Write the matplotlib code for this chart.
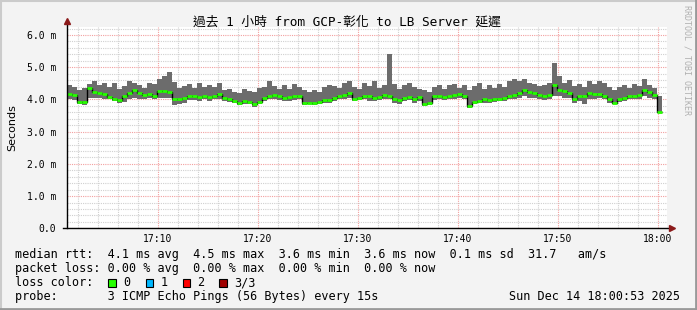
import numpy as np
import matplotlib
matplotlib.use('Agg')
import matplotlib.pyplot as plt
from matplotlib.patches import Rectangle

plt.rcParams['font.family'] = ['DejaVu Sans Mono', 'Noto Sans CJK TC']

# 取樣: 每 30 秒一點, 從 17:00:56 開始 (分鐘, 以 17:00 為 0)
t_start = 0.933
step_min = 0.5

# median rtt (ms)
med = [4.17, 4.15, 3.92, 3.92, 4.35, 4.22, 4.20, 4.18, 4.08, 4.00,
       3.98, 4.10, 4.20, 4.28, 4.20, 4.15, 4.18, 4.10, 4.25, 4.25,
       4.22, 4.02, 4.00, 4.05, 4.10, 4.12, 4.08, 4.10, 4.08, 4.12,
       4.18, 4.05, 4.02, 3.95, 3.88, 3.95, 3.92, 3.85, 3.92, 4.05,
       4.12, 4.15, 4.10, 4.05, 4.08, 4.10, 4.12, 3.88, 3.90, 3.88,
       3.92, 3.98, 3.98, 4.05, 4.12, 4.15,
       4.20, 4.03, 4.05, 4.10, 4.10, 4.05, 4.08, 4.15, 4.10, 4.02,
       3.98, 4.05, 4.08, 4.02, 4.08, 3.85, 3.90, 4.10, 4.10, 4.08,
       4.12, 4.15, 4.18, 4.12, 3.80, 3.92, 3.95, 4.00, 3.98, 4.02,
       4.02, 4.05, 4.10, 4.15, 4.20, 4.30, 4.22, 4.20, 4.15, 4.10,
       4.15, 4.45, 4.30, 4.25, 4.20, 4.00, 4.12, 4.10, 4.20, 4.18,
       4.18, 4.10, 4.00, 3.90, 4.00, 4.05, 4.10, 4.12, 4.15, 4.30,
       4.22, 4.15, 3.60]
# smoke 上緣 / 下緣 (ms)
hi = [4.45, 4.38, 4.30, 4.35, 4.47, 4.58, 4.45, 4.52, 4.40, 4.50,
      4.33, 4.42, 4.58, 4.50, 4.46, 4.36, 4.52, 4.48, 4.62, 4.72,
      4.85, 4.55, 4.35, 4.42, 4.48, 4.36, 4.50, 4.40, 4.46, 4.40,
      4.52, 4.28, 4.34, 4.24, 4.20, 4.32, 4.26, 4.22, 4.36, 4.40,
      4.58, 4.42, 4.32, 4.46, 4.34, 4.48, 4.38, 4.30, 4.22, 4.30,
      4.24, 4.38, 4.46, 4.42, 4.36, 4.50,
      4.58, 4.38, 4.32, 4.52, 4.42, 4.56, 4.36, 4.46, 5.42, 4.48,
      4.34, 4.46, 4.50, 4.40, 4.34, 4.28, 4.24, 4.38, 4.46, 4.34,
      4.44, 4.48, 4.36, 4.44, 4.28, 4.42, 4.52, 4.32, 4.46, 4.36,
      4.48, 4.38, 4.56, 4.62, 4.58, 4.62, 4.52, 4.48, 4.42, 4.46,
      4.52, 5.12, 4.72, 4.52, 4.60, 4.42, 4.48, 4.38, 4.58, 4.48,
      4.56, 4.50, 4.38, 4.28, 4.38, 4.44, 4.36, 4.48, 4.42, 4.62,
      4.46, 4.36, 4.10]
lo = [4.02, 3.98, 3.85, 3.82, 4.05, 4.05, 4.05, 4.02, 4.00, 3.95,
      3.90, 3.92, 4.00, 4.05, 4.00, 4.00, 4.05, 4.00, 4.05, 4.05,
      4.05, 3.82, 3.85, 3.90, 3.98, 3.98, 3.95, 4.00, 3.95, 4.00,
      4.00, 3.95, 3.92, 3.88, 3.82, 3.85, 3.85, 3.78, 3.85, 3.95,
      4.00, 4.00, 3.98, 3.95, 3.95, 3.98, 4.00, 3.82, 3.85, 3.82,
      3.85, 3.90, 3.88, 3.95, 4.00, 4.02,
      4.05, 3.95, 3.98, 4.00, 3.95, 3.95, 3.98, 4.00, 4.00, 3.90,
      3.85, 3.95, 3.98, 3.90, 3.95, 3.80, 3.82, 3.98, 4.00, 3.98,
      4.00, 4.00, 4.05, 4.00, 3.75, 3.85, 3.88, 3.90, 3.90, 3.92,
      3.95, 3.95, 4.00, 4.02, 4.05, 4.10, 4.05, 4.05, 4.00, 3.98,
      4.00, 4.10, 4.10, 4.05, 4.05, 3.90, 3.95, 3.85, 4.00, 4.00,
      4.05, 4.00, 3.90, 3.85, 3.92, 3.95, 4.00, 4.00, 4.02, 4.10,
      4.05, 4.02, 3.58]

x_ticks = [10, 20, 30, 40, 50, 60]
x_labels = ['17:10', '17:20', '17:30', '17:40', '17:50', '18:00']
y_ticks = [0, 1, 2, 3, 4, 5, 6]
y_labels = ['0.0', '1.0 m', '2.0 m', '3.0 m', '4.0 m', '5.0 m', '6.0 m']

loss_names = ['0', '1', '2', '3/3']
loss_colors = ['#26ff00', '#00b8ff', '#ff0000', '#a00000']

stat_rtt = ['4.1', '4.5', '3.6', '3.6', '0.1', '31.7']
stat_loss = ['0.00', '0.00', '0.00', '0.00']

edges = t_start + step_min * np.arange(len(med) + 1)

W, H = 697, 310
fig = plt.figure(figsize=(W / 100, H / 100), dpi=100, facecolor='#f3f3f3')
ax = fig.add_axes([67 / W, (H - 228.3) / H, 600 / W, 201.3 / H])
ax.set_facecolor('white')

ax.set_xlim(t_start, t_start + 60)
ax.set_ylim(0, 6.25)

# grid
ax.set_xticks(np.arange(2, 61, 2), minor=True)
ax.set_yticks(np.arange(0, 6.3, 0.2), minor=True)
ax.set_xticks(x_ticks)
ax.set_xticklabels(x_labels)
ax.set_yticks(y_ticks)
ax.set_yticklabels(y_labels)
ax.grid(which='minor', color='#d0d0d0', linestyle=(0, (1, 1)), linewidth=0.8)
ax.grid(which='major', color='#f2a0a0', linestyle=(0, (1, 1)), linewidth=0.8)
ax.set_axisbelow(True)
ax.tick_params(which='both', length=0)
ax.tick_params(axis='y', pad=8, labelsize=7)
ax.tick_params(axis='x', pad=4, labelsize=7)
for s in ax.spines.values():
    s.set_visible(False)

# smoke
ax.stairs(hi, edges, baseline=lo, fill=True, color='#6c6c6c', lw=0)
# median
ax.stairs(med, edges, baseline=None, color='black', lw=1)
ax.hlines(med, edges[:-1], edges[1:], color=loss_colors[0], lw=2)

# axes with arrows
ax.plot([-0.007, 1.008], [0, 0], color='black', lw=1, transform=ax.transAxes, clip_on=False)
ax.plot([0, 0], [0, 1.03], color='black', lw=1, transform=ax.transAxes, clip_on=False)
ax.plot([1.0085], [0], marker='>', ms=4, color='#8b1a1a', transform=ax.transAxes, clip_on=False)
ax.plot([0], [1.032], marker='^', ms=4, color='#8b1a1a', transform=ax.transAxes, clip_on=False)

ax.set_ylabel('Seconds', fontsize=8, family='DejaVu Sans')
ax.yaxis.set_label_coords(-50 / 600, 0.5)

fig.text(347 / W, 1 - 22 / H, '過去 1 小時 from GCP-彰化 to LB Server 延遲',
         ha='center', va='center', fontsize=9.2)
fig.text(687 / W, 1 - 5 / H, 'RRDTOOL / TOBI OETIKER', rotation=-90,
         ha='center', va='top', fontsize=6, color='#b0b0b0')

fs = 8.45
x0 = 15 / W
line1 = ('median rtt:  %s ms avg  %s ms max  %s ms min  %s ms now  %s ms sd  %s   am/s'
         % tuple(stat_rtt))
line2 = 'packet loss: %s %% avg  %s %% max  %s %% min  %s %% now' % tuple(stat_loss)
fig.text(x0, 1 - 254.5 / H, line1, va='center', fontsize=fs)
fig.text(x0, 1 - 268.5 / H, line2, va='center', fontsize=fs)
fig.text(x0, 1 - 282.5 / H, 'loss color:', va='center', fontsize=fs)
fig.text(x0, 1 - 296.5 / H, 'probe:       3 ICMP Echo Pings (56 Bytes) every 15s',
         va='center', fontsize=fs)
fig.text(680 / W, 1 - 296.5 / H, 'Sun Dec 14 18:00:53 2025', ha='right',
         va='center', fontsize=fs)

box_x = [108, 145.5, 182.5, 219]
for bx, name, col in zip(box_x, loss_names, loss_colors):
    fig.patches.append(Rectangle((bx / W, 1 - 286.5 / H), 7.5 / W, 7.5 / H,
                                 transform=fig.transFigure, facecolor=col,
                                 edgecolor='black', lw=0.8))
    fig.text((bx + 15) / W, 1 - 282.5 / H, name, va='center', fontsize=fs)

# 外框
fig.add_artist(plt.Line2D([0, 1], [1 - 0.5 / H, 1 - 0.5 / H], color='#cbcbcb', lw=1.5))
fig.add_artist(plt.Line2D([0.5 / W, 0.5 / W], [0, 1], color='#cbcbcb', lw=1.5))
fig.add_artist(plt.Line2D([1 - 1 / W, 1 - 1 / W], [0, 1], color='#999999', lw=2))
fig.add_artist(plt.Line2D([0, 1], [1 / H, 1 / H], color='#999999', lw=2))

fig.savefig('out.png', dpi=100, facecolor=fig.get_facecolor())
